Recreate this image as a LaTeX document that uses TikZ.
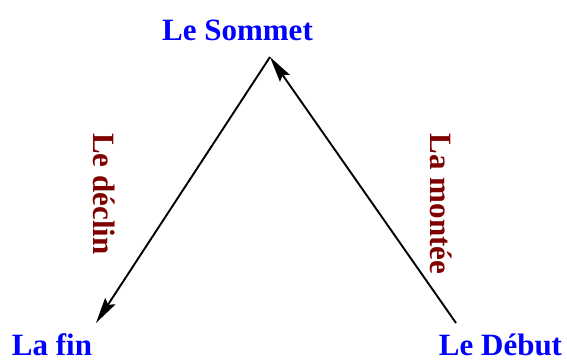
\documentclass[tikz,border=0pt]{standalone}
\usepackage{fontspec}
\setmainfont{Liberation Serif}
\usetikzlibrary{arrows.meta}
\definecolor{dblue}{RGB}{0,0,255}
\definecolor{dred}{RGB}{128,0,0}
\tikzset{
  lbl/.style={text=dblue, font=\fontsize{31}{36}\selectfont\bfseries, inner sep=0pt, anchor=base},
  side/.style={text=dred, font=\fontsize{31}{36}\selectfont\bfseries, inner sep=0pt, anchor=base, rotate=-90},
  conn/.style={line width=1.9pt, -{Stealth[length=26pt,width=12pt,inset=4pt]}}
}
\begin{document}
\begin{tikzpicture}[x=1pt,y=1pt]
\useasboundingbox (0,0) rectangle (567,363);
\coordinate (apex) at (270,306);
\coordinate (debut) at (456,40);
\coordinate (fin) at (96,40);
\node[lbl] (sommet) at (237.5,322) {Le Sommet};
\node[lbl] (lafin) at (52,7) {La fin};
\node[lbl] (ledebut) at (500.5,7) {Le Début};
\node[side] (declin) at (93,169) {Le déclin};
\node[side] (montee) at (430,159) {La montée};
\draw[conn] (debut) -- (apex);
\draw[conn] (apex) -- (fin);
\end{tikzpicture}
\end{document}
